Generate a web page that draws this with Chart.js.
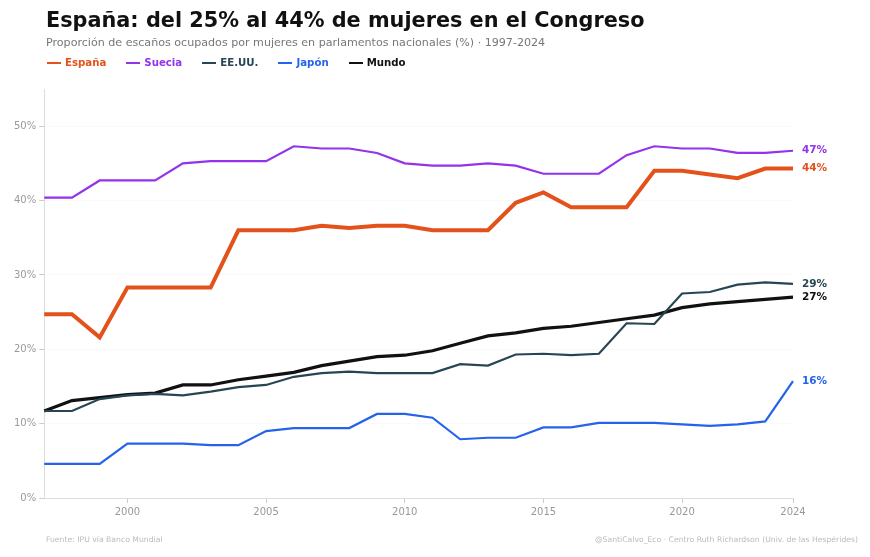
<!DOCTYPE html>
<html>
<head>
<meta charset="utf-8">
<script src="https://cdn.jsdelivr.net/npm/chart.js@4"></script>
<style>
  body { margin: 0; background: #fff; font-family: "DejaVu Sans", sans-serif; }
  #wrap { position: relative; width: 870px; height: 557px; }
  #chart { position: absolute; left: 0; top: 0; }
  .title { position: absolute; left: 46px; top: 8px; font-size: 20.8px; font-weight: bold; color: #111; }
  .sub { position: absolute; left: 46px; top: 36px; font-size: 11.1px; color: #777; }
  #legend { position: absolute; left: 47px; top: 57px; font-size: 10.2px; font-weight: bold; display: flex; }
  #legend span.item { margin-right: 20px; display: flex; align-items: center; }
  #legend span.sw { display: inline-block; width: 14px; height: 2px; margin-right: 4px; }
  .foot { position: absolute; top: 535px; font-size: 7.7px; color: #bbb; }
</style>
</head>
<body>
<div id="wrap">
  <canvas id="chart" width="870" height="557"></canvas>
  <div class="title">España: del 25% al 44% de mujeres en el Congreso</div>
  <div class="sub">Proporción de escaños ocupados por mujeres en parlamentos nacionales (%) · 1997-2024</div>
  <div id="legend"></div>
  <div class="foot" style="left:46px">Fuente: IPU vía Banco Mundial</div>
  <div class="foot" style="right:12px">@SantiCalvo_Eco · Centro Ruth Richardson (Univ. de las Hespérides)</div>
</div>
<script>
var years = [1997,1998,1999,2000,2001,2002,2003,2004,2005,2006,2007,2008,2009,2010,
             2011,2012,2013,2014,2015,2016,2017,2018,2019,2020,2021,2022,2023,2024];

var espana = [24.7,24.7,21.6,28.3,28.3,28.3,28.3,36.0,36.0,36.0,36.6,36.3,36.6,36.6,
              36.0,36.0,36.0,39.7,41.1,39.1,39.1,39.1,44.0,44.0,43.5,43.0,44.3,44.3];
var suecia = [40.4,40.4,42.7,42.7,42.7,45.0,45.3,45.3,45.3,47.3,47.0,47.0,46.4,45.0,
              44.7,44.7,45.0,44.7,43.6,43.6,43.6,46.1,47.3,47.0,47.0,46.4,46.4,46.7];
var eeuu = [11.7,11.7,13.3,13.8,14.0,13.8,14.3,14.9,15.2,16.3,16.8,17.0,16.8,16.8,
            16.8,18.0,17.8,19.3,19.4,19.2,19.4,23.5,23.4,27.5,27.7,28.7,29.0,28.8];
var japon = [4.6,4.6,4.6,7.3,7.3,7.3,7.1,7.1,9.0,9.4,9.4,9.4,11.3,11.3,
             10.8,7.9,8.1,8.1,9.5,9.5,10.1,10.1,10.1,9.9,9.7,9.9,10.3,15.7];
var mundo = [11.7,13.1,13.5,13.9,14.1,15.2,15.2,15.9,16.4,16.9,17.8,18.4,19.0,19.2,
             19.8,20.8,21.8,22.2,22.8,23.1,23.6,24.1,24.6,25.6,26.1,26.4,26.7,27.0];

var yTicks = [0,10,20,30,40,50];
var xTickYears = [2000,2005,2010,2015,2020,2024];

var series = [
  { label: 'España', data: espana, color: '#e4521b', width: 4 },
  { label: 'Suecia', data: suecia, color: '#9333ea', width: 2.2 },
  { label: 'EE.UU.', data: eeuu, color: '#264653', width: 2.2 },
  { label: 'Japón', data: japon, color: '#2563eb', width: 2.2 },
  { label: 'Mundo', data: mundo, color: '#111111', width: 3.2 }
];

var legend = document.getElementById('legend');
series.forEach(function (s) {
  var it = document.createElement('span');
  it.className = 'item';
  it.style.color = s.color;
  it.innerHTML = '<span class="sw" style="background:' + s.color + '"></span>' + s.label;
  legend.appendChild(it);
});

var endLabels = {
  id: 'endLabels',
  afterDatasetsDraw: function (chart) {
    var ctx = chart.ctx;
    ctx.save();
    ctx.font = 'bold 10.5px "DejaVu Sans"';
    ctx.textBaseline = 'middle';
    chart.data.datasets.forEach(function (ds, i) {
      var pts = chart.getDatasetMeta(i).data;
      var last = pts[pts.length - 1];
      ctx.fillStyle = ds.borderColor;
      ctx.fillText(Math.round(ds.data[ds.data.length - 1]) + '%', last.x + 9, last.y);
    });
    ctx.restore();
  }
};

new Chart(document.getElementById('chart'), {
  type: 'line',
  data: {
    labels: years,
    datasets: series.map(function (s) {
      return {
        label: s.label,
        data: s.data,
        borderColor: s.color,
        backgroundColor: s.color,
        borderWidth: s.width,
        pointRadius: 0,
        tension: 0,
        fill: false
      };
    })
  },
  options: {
    responsive: false,
    animation: false,
    layout: { padding: { left: 11, right: 77, top: 89, bottom: 36 } },
    plugins: { legend: { display: false }, tooltip: { enabled: false } },
    scales: {
      x: {
        grid: { drawOnChartArea: false, tickLength: 5, color: '#cccccc' },
        border: { color: '#dddddd' },
        ticks: {
          autoSkip: false,
          maxRotation: 0,
          color: '#999999',
          font: { family: 'DejaVu Sans', size: 10 },
          padding: 3,
          callback: function (v, i) {
            var y = years[i];
            return xTickYears.indexOf(y) >= 0 ? String(y) : null;
          }
        }
      },
      y: {
        min: 0,
        max: 55,
        grid: { color: 'rgba(0,0,0,0.025)', tickColor: '#cccccc', tickLength: 5 },
        border: { color: '#dddddd' },
        afterBuildTicks: function (scale) {
          scale.ticks = yTicks.map(function (v) { return { value: v }; });
        },
        ticks: {
          color: '#999999',
          font: { family: 'DejaVu Sans', size: 10 },
          padding: 3,
          callback: function (v) { return v + '%'; }
        }
      }
    }
  },
  plugins: [endLabels]
});
</script>
</body>
</html>
